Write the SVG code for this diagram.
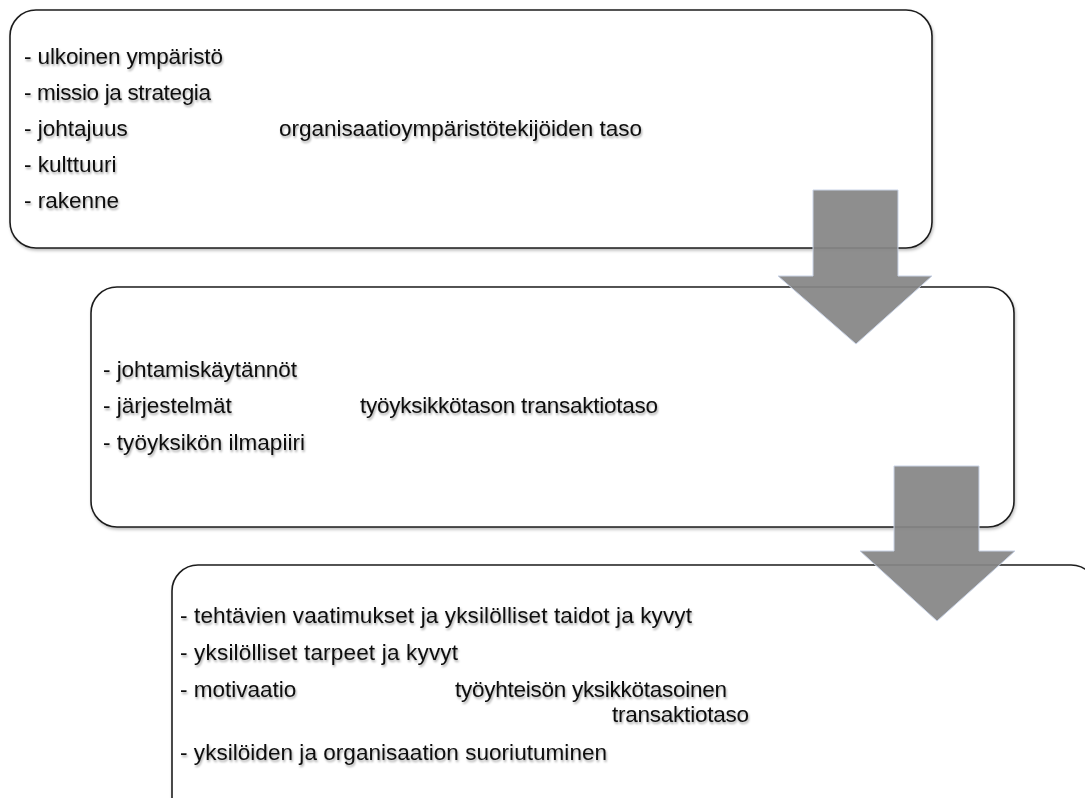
<svg xmlns="http://www.w3.org/2000/svg" width="1085" height="798" viewBox="0 0 1085 798">
<style>
.box{fill:#fff;stroke:#1e1e1e;stroke-width:1.6;filter:url(#bs)}
.t{font-family:"Liberation Sans",Arial,sans-serif;font-size:22.5px;fill:#111;filter:url(#ts)}
.arr{fill:#858585;fill-opacity:0.93;stroke:#c9d3e6;stroke-width:1}
</style>
<defs>
<filter id="ts" x="-5%" y="-30%" width="110%" height="170%">
<feDropShadow dx="1" dy="2" stdDeviation="1.3" flood-color="#000" flood-opacity="0.35"/>
</filter>
<filter id="bs" x="-5%" y="-5%" width="110%" height="115%">
<feDropShadow dx="1" dy="2" stdDeviation="1.5" flood-color="#000" flood-opacity="0.25"/>
</filter>
</defs>
<g id="node1">
<rect class="box" x="10" y="10" width="922" height="238" rx="26"/>
<text class="t" x="24" y="64" textLength="199" lengthAdjust="spacing">- ulkoinen ympäristö</text>
<text class="t" x="24" y="100" textLength="187" lengthAdjust="spacing">- missio ja strategia</text>
<text class="t" x="24" y="136">- johtajuus</text>
<text class="t" x="24" y="172">- kulttuuri</text>
<text class="t" x="24" y="208">- rakenne</text>
<text class="t" x="279" y="136" textLength="363" lengthAdjust="spacing">organisaatioympäristötekijöiden  taso</text>
</g>
<g id="node2">
<rect class="box" x="91" y="287" width="923" height="240" rx="26"/>
<text class="t" x="103" y="377" textLength="194" lengthAdjust="spacing">- johtamiskäytännöt</text>
<text class="t" x="103" y="413">- järjestelmät</text>
<text class="t" x="103" y="450" textLength="202" lengthAdjust="spacing">- työyksikön ilmapiiri</text>
<text class="t" x="360" y="413" textLength="298" lengthAdjust="spacing">työyksikkötason transaktiotaso</text>
</g>
<g id="node3">
<rect class="box" x="172" y="565" width="925" height="260" rx="26"/>
<text class="t" x="180" y="623" textLength="512" lengthAdjust="spacing">- tehtävien vaatimukset ja yksilölliset taidot ja kyvyt</text>
<text class="t" x="180" y="660" textLength="278" lengthAdjust="spacing">- yksilölliset tarpeet ja kyvyt</text>
<text class="t" x="180" y="697">- motivaatio</text>
<text class="t" x="455" y="697" textLength="272" lengthAdjust="spacing">työyhteisön yksikkötasoinen</text>
<text class="t" x="612" y="722" textLength="137" lengthAdjust="spacing">transaktiotaso</text>
<text class="t" x="180" y="760" textLength="427" lengthAdjust="spacing">- yksilöiden ja organisaation suoriutuminen</text>
</g>
<g id="connectors">
<polygon class="arr" points="813,190 898,190 898,276 932,276 856,344 778,276 813,276"/>
<polygon class="arr" points="894,466 979,466 979,551 1015,551 937,621 860,551 894,551"/>
</g>
</svg>
